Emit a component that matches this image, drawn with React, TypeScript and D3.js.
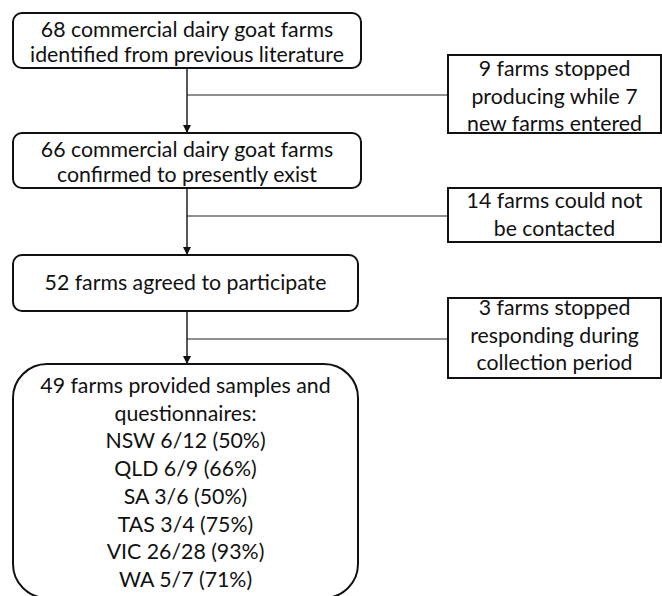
import { useEffect, useRef } from "react";
import * as d3 from "d3";

// flow steps (main column) and the exclusions branching off to the right
const STEP_LINES = [
  ["68 commercial dairy goat farms", "identified from previous literature"],
  ["66 commercial dairy goat farms", "confirmed to presently exist"],
  ["52 farms agreed to participate"],
  ["49 farms provided samples and", "questionnaires:"],
];
const STATES = ["NSW", "QLD", "SA", "TAS", "VIC", "WA"];
const STATE_SAMPLED = [6, 6, 3, 3, 26, 5];
const STATE_TOTAL = [12, 9, 6, 4, 28, 7];
const STATE_PCT = ["50%", "66%", "50%", "75%", "93%", "71%"];
const EXCLUSION_LINES = [
  ["9 farms stopped", "producing while 7", "new farms entered"],
  ["14 farms could not", "be contacted"],
  ["3 farms stopped", "responding during", "collection period"],
];

const W = 662;
const H = 596;
const FONT = "Lato, 'Open Sans', sans-serif";
const FONT_SIZE = 21.3;

// box geometry for the main column
const stepBoxes = [
  { y0: 13, y1: 68, base: 37, r: 9, x1: 361 },
  { y0: 133, y1: 188, base: 157, r: 9, x1: 361 },
  { y0: 255, y1: 311, base: 290, r: 9, x1: 358 },
  { y0: 364, y1: 598, base: 393, r: 34, x1: 358 },
];
const exclBoxes = [
  { y0: 55, y1: 133, base: 76, branch: 95 },
  { y0: 188, y1: 242, base: 208, branch: 216 },
  { y0: 298, y1: 378, base: 315, branch: 339 },
];

export default function App() {
  const ref = useRef<SVGSVGElement>(null);

  useEffect(() => {
    const svg = d3.select(ref.current);
    svg.selectAll("*").remove();
    const spineX = 187;
    const left = 13;
    const exclX0 = 448;
    const exclX1 = 661;
    const lineH = 27.7;

    svg
      .append("defs")
      .append("marker")
      .attr("id", "arrow")
      .attr("viewBox", "0 0 10 10")
      .attr("refX", 10)
      .attr("refY", 5)
      .attr("markerWidth", 8)
      .attr("markerHeight", 8)
      .attr("markerUnits", "userSpaceOnUse")
      .attr("orient", "auto")
      .append("path")
      .attr("d", "M0,0 L10,5 L0,10 z")
      .attr("fill", "#111");

    // vertical connectors with arrows
    d3.pairs(stepBoxes).forEach(([a, b]) => {
      svg
        .append("line")
        .attr("x1", spineX)
        .attr("x2", spineX)
        .attr("y1", a.y1)
        .attr("y2", b.y0)
        .attr("stroke", "#111")
        .attr("stroke-width", 1.4)
        .attr("marker-end", "url(#arrow)");
    });

    // branch lines to exclusion boxes
    exclBoxes.forEach((e) => {
      svg
        .append("line")
        .attr("x1", spineX)
        .attr("x2", exclX0)
        .attr("y1", e.branch)
        .attr("y2", e.branch)
        .attr("stroke", "#222")
        .attr("stroke-width", 1.2);
    });

    // main step boxes
    const steps = STEP_LINES.map((lines, i) =>
      i === 3
        ? lines.concat(
            STATES.map(
              (s, j) => `${s} ${STATE_SAMPLED[j]}/${STATE_TOTAL[j]} (${STATE_PCT[j]})`
            )
          )
        : lines
    );

    stepBoxes.forEach((b, i) => {
      svg
        .append("rect")
        .attr("x", left)
        .attr("y", b.y0)
        .attr("width", b.x1 - left)
        .attr("height", b.y1 - b.y0)
        .attr("rx", b.r)
        .attr("fill", "#fff")
        .attr("stroke", "#111")
        .attr("stroke-width", 2);
      const lh = i === 3 ? lineH : 25;
      svg
        .append("g")
        .selectAll("text")
        .data(steps[i])
        .join("text")
        .attr("x", (left + b.x1) / 2)
        .attr("y", (_, k) => b.base + k * lh)
        .attr("text-anchor", "middle")
        .attr("font-family", FONT)
        .attr("font-size", FONT_SIZE)
        .attr("fill", "#111")
        .text((d) => d);
    });

    // exclusion boxes
    exclBoxes.forEach((e, i) => {
      svg
        .append("rect")
        .attr("x", exclX0)
        .attr("y", e.y0)
        .attr("width", exclX1 - exclX0)
        .attr("height", e.y1 - e.y0)
        .attr("fill", "#fff")
        .attr("stroke", "#111")
        .attr("stroke-width", 2);
      svg
        .append("g")
        .selectAll("text")
        .data(EXCLUSION_LINES[i])
        .join("text")
        .attr("x", (exclX0 + exclX1) / 2)
        .attr("y", (_, k) => e.base + k * 27.5)
        .attr("text-anchor", "middle")
        .attr("font-family", FONT)
        .attr("font-size", FONT_SIZE)
        .attr("fill", "#111")
        .text((d) => d);
    });
  }, []);

  return (
    <svg
      ref={ref}
      width={W}
      height={H}
      style={{ position: "absolute", left: 0, top: 0, background: "#fff" }}
    />
  );
}
